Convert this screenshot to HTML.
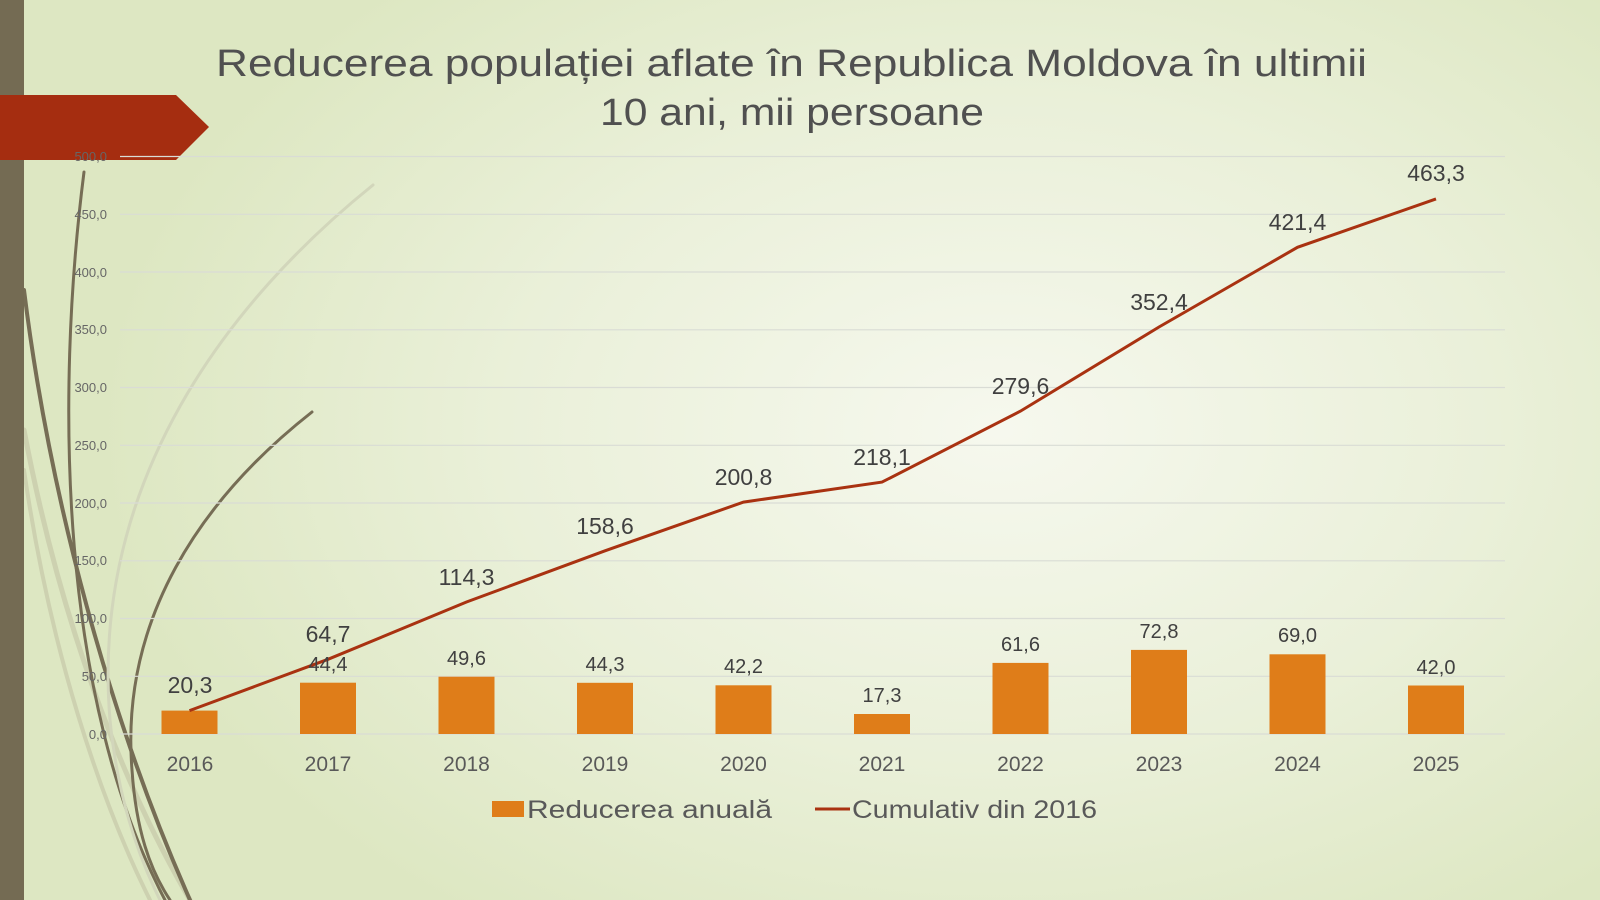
<!DOCTYPE html>
<html><head><meta charset="utf-8"><style>
html,body{margin:0;padding:0;width:1600px;height:900px;overflow:hidden}
body{background:radial-gradient(ellipse 900px 600px at 1000px 430px,#f6f8ee 0%,#eaf0d9 55%,#dde7c2 100%);font-family:"Liberation Sans","DejaVu Sans",sans-serif}
svg{position:absolute;left:0;top:0}
</style></head><body>
<svg width="1600" height="900" viewBox="0 0 1600 900">
<g fill="none" stroke-linecap="round">
<path d="M24 430 C 60 620, 120 780, 190 900" stroke="#cdd1b0" stroke-width="5"/>
<path d="M24 470 C 50 650, 100 800, 150 900" stroke="#cdd1b0" stroke-width="4"/>
<path d="M24 290 C 50 500, 110 720, 190 900" stroke="#766d55" stroke-width="4"/>
<path d="M84 172 C 55 400, 60 700, 165 900" stroke="#766d55" stroke-width="3"/>
<path d="M373 185 C 230 300, 90 480, 110 720 C 118 800, 140 860, 160 900" stroke="#d2d6bb" stroke-width="3"/>
<path d="M312 412 C 200 500, 120 620, 132 770 C 136 830, 150 870, 170 900" stroke="#766d55" stroke-width="3"/>
</g>
<rect x="0" y="0" width="24" height="900" fill="#746b53"/>
<polygon points="0,95 176,95 209,127 176,160 0,160" fill="#a52d10"/>
<g stroke="#d9dcd5" stroke-width="1.2">
<line x1="120" x2="1505" y1="156.5" y2="156.5"/><line x1="120" x2="1505" y1="214.3" y2="214.3"/>
<line x1="120" x2="1505" y1="272" y2="272"/><line x1="120" x2="1505" y1="329.8" y2="329.8"/>
<line x1="120" x2="1505" y1="387.5" y2="387.5"/><line x1="120" x2="1505" y1="445.3" y2="445.3"/>
<line x1="120" x2="1505" y1="503" y2="503"/><line x1="120" x2="1505" y1="560.8" y2="560.8"/>
<line x1="120" x2="1505" y1="618.5" y2="618.5"/><line x1="120" x2="1505" y1="676.3" y2="676.3"/>
<line x1="120" x2="1505" y1="734" y2="734"/>
</g>
<g font-size="13" fill="#666" text-anchor="end">
<text x="107" y="161">500,0</text><text x="107" y="219">450,0</text><text x="107" y="277">400,0</text>
<text x="107" y="334">350,0</text><text x="107" y="392">300,0</text><text x="107" y="450">250,0</text>
<text x="107" y="508">200,0</text><text x="107" y="565">150,0</text><text x="107" y="623">100,0</text>
<text x="107" y="681">50,0</text><text x="107" y="739">0,0</text>
</g>
<g fill="#df7d19">
<rect x="161.5" y="710.6" width="56" height="23.4"/><rect x="300" y="682.7" width="56" height="51.3"/>
<rect x="438.5" y="676.7" width="56" height="57.3"/><rect x="577" y="682.8" width="56" height="51.2"/>
<rect x="715.5" y="685.3" width="56" height="48.7"/><rect x="854" y="714" width="56" height="20"/>
<rect x="992.5" y="662.9" width="56" height="71.1"/><rect x="1131" y="649.9" width="56" height="84.1"/>
<rect x="1269.5" y="654.3" width="56" height="79.7"/><rect x="1408" y="685.5" width="56" height="48.5"/>
</g>
<polyline fill="none" stroke="#a93211" stroke-width="3" points="189.5,710.6 328,659.3 466.5,602 605,550.8 743.5,502.1 882,482.1 1020.5,411.1 1159,327 1297.5,247.3 1436,198.9"/>
<g font-size="20" fill="#404040" text-anchor="middle">
<text x="328" y="671">44,4</text><text x="466.5" y="665">49,6</text><text x="605" y="671">44,3</text>
<text x="743.5" y="673">42,2</text><text x="882" y="702">17,3</text><text x="1020.5" y="651">61,6</text>
<text x="1159" y="638">72,8</text><text x="1297.5" y="642">69,0</text><text x="1436" y="674">42,0</text>
</g>
<g font-size="23" fill="#404040" text-anchor="middle">
<text x="190" y="693">20,3</text><text x="328" y="642">64,7</text><text x="466.5" y="585">114,3</text>
<text x="605" y="534">158,6</text><text x="743.5" y="485">200,8</text><text x="882" y="465">218,1</text>
<text x="1020.5" y="394">279,6</text><text x="1159" y="310">352,4</text><text x="1297.5" y="230">421,4</text>
<text x="1436" y="181">463,3</text>
</g>
<g font-size="21" fill="#595959" text-anchor="middle">
<text x="190" y="771">2016</text><text x="328" y="771">2017</text><text x="466.5" y="771">2018</text>
<text x="605" y="771">2019</text><text x="743.5" y="771">2020</text><text x="882" y="771">2021</text>
<text x="1020.5" y="771">2022</text><text x="1159" y="771">2023</text><text x="1297.5" y="771">2024</text>
<text x="1436" y="771">2025</text>
</g>
<rect x="492" y="801" width="32" height="16" fill="#df7d19"/>
<text x="527" y="818" font-size="25" fill="#595959" textLength="245" lengthAdjust="spacingAndGlyphs">Reducerea anuală</text>
<line x1="815" x2="850" y1="809" y2="809" stroke="#a93211" stroke-width="3"/>
<text x="852" y="818" font-size="25" fill="#595959" textLength="245" lengthAdjust="spacingAndGlyphs">Cumulativ din 2016</text>
<g font-size="38" fill="#505050">
<text x="216" y="76" textLength="1151" lengthAdjust="spacingAndGlyphs">Reducerea populației aflate în Republica Moldova în ultimii</text>
<text x="600" y="125" textLength="384" lengthAdjust="spacingAndGlyphs">10 ani, mii persoane</text>
</g>
</svg>
</body></html>
